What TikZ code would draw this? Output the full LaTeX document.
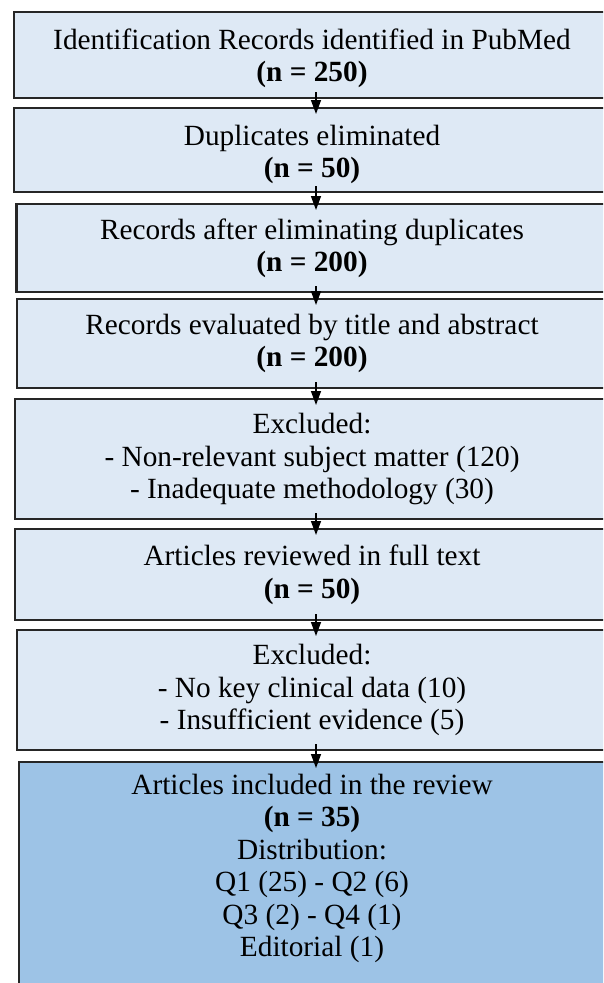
\documentclass[tikz,border=0pt]{standalone}
\usepackage{fontspec}
\setmainfont{Liberation Serif}
\usetikzlibrary{arrows.meta}
\definecolor{boxlight}{HTML}{DEE9F5}
\definecolor{boxdark}{HTML}{9DC3E6}
\definecolor{edge}{HTML}{262626}
\newcommand{\firstlift}[1]{\rule{0pt}{#1}}
\tikzset{
  flowbox/.style={draw=edge, line width=2.2pt, fill=boxlight, anchor=north,
    align=center, inner ysep=0pt, inner xsep=4pt,
    font=\fontsize{29.3}{32.5}\selectfont},
  finalbox/.style={flowbox, fill=boxdark},
  flowarrow/.style={line width=1.4pt, draw=black,
    -{Triangle[width=10pt,length=14pt]}}
}
\begin{document}
\begin{tikzpicture}[x=1pt,y=1pt]
\useasboundingbox (0,0) rectangle (603,-983);
\clip (0,0) rectangle (603,-983);
\node[flowbox, minimum width=596pt, minimum height=86pt] (b1) at (312,-11)
  {\firstlift{27pt}Identification Records identified in PubMed\\\textbf{(n = 250)}};
\node[flowbox, minimum width=596pt, minimum height=84pt] (b2) at (312,-107)
  {\firstlift{29pt}Duplicates eliminated\\\textbf{(n = 50)}};
\node[flowbox, minimum width=591pt, minimum height=88pt] (b3) at (312,-203)
  {Records after eliminating duplicates\\\textbf{(n = 200)}};
\node[flowbox, minimum width=590pt, minimum height=89pt] (b4) at (312,-298)
  {Records evaluated by title and abstract\\\textbf{(n = 200)}};
\node[flowbox, minimum width=594pt, minimum height=120pt] (b5) at (312,-398)
  {Excluded:\\- Non-relevant subject matter (120)\\- Inadequate methodology (30)};
\node[flowbox, minimum width=594pt, minimum height=91pt] (b6) at (312,-528)
  {Articles reviewed in full text\\\textbf{(n = 50)}};
\node[flowbox, minimum width=590pt, minimum height=120pt] (b7) at (312,-629)
  {Excluded:\\- No key clinical data (10)\\- Insufficient evidence (5)};
\node[finalbox, minimum width=586pt, inner ysep=12pt] (b8) at (312,-761)
  {Articles included in the review\\\textbf{(n = 35)}\\Distribution:\\Q1 (25) - Q2 (6)\\Q3 (2) - Q4 (1)\\Editorial (1)\\\rule{0pt}{40pt}};
\foreach \a/\b in {b1/b2,b2/b3,b3/b4,b4/b5,b5/b6,b6/b7,b7/b8}
  \draw[flowarrow] ([shift={(4pt,7pt)}]\a.south) -- ([shift={(4pt,-7pt)}]\b.north);
\end{tikzpicture}
\end{document}
